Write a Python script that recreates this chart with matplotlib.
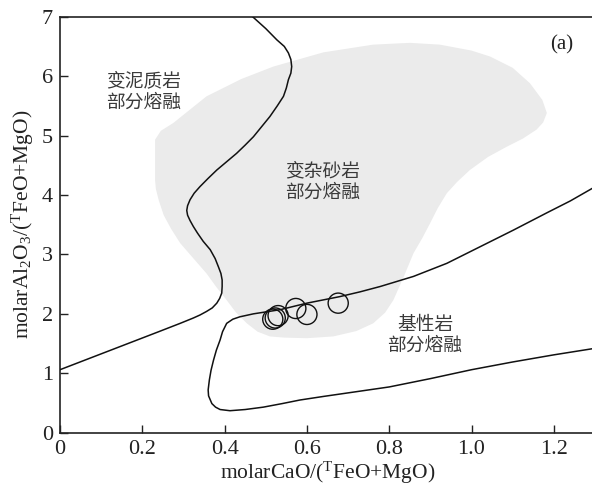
import matplotlib
matplotlib.use("Agg")
import matplotlib.pyplot as plt

# ---- data ----
pelite_x = [0.468, 0.500, 0.527, 0.545, 0.555, 0.561, 0.563, 0.561, 0.555, 0.550, 0.543, 0.528, 0.510, 0.490, 0.470, 0.450, 0.429, 0.405, 0.381, 0.360, 0.340, 0.326, 0.316, 0.310, 0.308, 0.310, 0.316, 0.324, 0.334, 0.348, 0.365, 0.377, 0.385, 0.391, 0.394, 0.394, 0.393, 0.388, 0.381, 0.370, 0.356, 0.340, 0.324, 0.292, 0.240, 0.180, 0.120, 0.060, 0.0]
pelite_y = [7.00, 6.80, 6.61, 6.50, 6.39, 6.28, 6.16, 6.05, 5.94, 5.80, 5.66, 5.50, 5.32, 5.15, 4.98, 4.84, 4.70, 4.56, 4.42, 4.28, 4.14, 4.03, 3.92, 3.82, 3.74, 3.66, 3.57, 3.47, 3.36, 3.22, 3.08, 2.93, 2.79, 2.68, 2.57, 2.46, 2.35, 2.26, 2.18, 2.10, 2.04, 1.98, 1.93, 1.84, 1.70, 1.54, 1.38, 1.22, 1.06]

basalt_x = [1.293, 1.240, 1.183, 1.102, 1.021, 0.940, 0.859, 0.778, 0.729, 0.680, 0.600, 0.535, 0.470, 0.437, 0.420, 0.405, 0.395, 0.389, 0.380, 0.373, 0.367, 0.363, 0.360, 0.361, 0.369, 0.378, 0.389, 0.413, 0.450, 0.494, 0.540, 0.583, 0.640, 0.700, 0.800, 0.900, 1.000, 1.100, 1.200, 1.300]
basalt_y = [4.11, 3.90, 3.70, 3.41, 3.13, 2.85, 2.63, 2.46, 2.37, 2.29, 2.18, 2.07, 2.00, 1.95, 1.91, 1.84, 1.70, 1.56, 1.39, 1.22, 1.05, 0.89, 0.72, 0.62, 0.49, 0.43, 0.39, 0.37, 0.39, 0.43, 0.49, 0.55, 0.61, 0.67, 0.77, 0.91, 1.06, 1.19, 1.31, 1.42]

gray_x = [0.231, 0.231, 0.245, 0.275, 0.356, 0.440, 0.518, 0.640, 0.761, 0.850, 0.923, 1.000, 1.045, 1.100, 1.142, 1.172, 1.183, 1.174, 1.158, 1.125, 1.085, 1.040, 0.996, 0.965, 0.940, 0.918, 0.899, 0.880, 0.859, 0.835, 0.810, 0.790, 0.761, 0.720, 0.664, 0.600, 0.545, 0.510, 0.480, 0.454, 0.428, 0.405, 0.380, 0.356, 0.322, 0.292, 0.270, 0.252, 0.240, 0.233]
gray_y = [4.25, 4.93, 5.08, 5.21, 5.66, 5.95, 6.16, 6.40, 6.53, 6.56, 6.53, 6.43, 6.33, 6.14, 5.88, 5.60, 5.38, 5.22, 5.10, 4.95, 4.81, 4.64, 4.42, 4.22, 4.03, 3.78, 3.52, 3.27, 3.02, 2.62, 2.23, 2.02, 1.84, 1.71, 1.62, 1.59, 1.60, 1.62, 1.70, 1.84, 2.02, 2.23, 2.45, 2.68, 2.95, 3.19, 3.43, 3.66, 3.91, 4.10]

sample_x = [0.517, 0.523, 0.530, 0.573, 0.600, 0.676]
sample_y = [1.91, 1.93, 1.97, 2.09, 1.99, 2.18]

x_ticks = [0, 0.2, 0.4, 0.6, 0.8, 1.0, 1.2]
x_ticklabels = ["0", "0.2", "0.4", "0.6", "0.8", "1.0", "1.2"]
y_ticks = [0, 1, 2, 3, 4, 5, 6, 7]
y_ticklabels = ["0", "1", "2", "3", "4", "5", "6", "7"]

labels = [
    ("变泥质岩\n部分熔融", 0.204, 5.74),
    ("变杂砂岩\n部分熔融", 0.638, 4.23),
    ("基性岩\n部分熔融", 0.887, 1.645),
]
panel_label = "(a)"

# ---- style ----
plt.rcParams["font.family"] = ["Liberation Serif", "DejaVu Serif"]
plt.rcParams["mathtext.fontset"] = "custom"
plt.rcParams["mathtext.rm"] = "Liberation Serif"
plt.rcParams["mathtext.it"] = "Liberation Serif:italic"
plt.rcParams["mathtext.default"] = "regular"

fig = plt.figure(figsize=(5.92, 4.88), dpi=100)
ax = fig.add_axes([60 / 592, (488 - 432.7) / 488, (595 - 60) / 592, (432.7 - 16.7) / 488])

ax.fill(gray_x, gray_y, color="#ebebeb", lw=0, zorder=1)
ax.plot(pelite_x, pelite_y, color="#111111", lw=1.1, zorder=3, solid_joinstyle="round")
ax.plot(basalt_x, basalt_y, color="#111111", lw=1.1, zorder=3, solid_joinstyle="round")
ax.scatter(sample_x, sample_y, s=210, facecolors="none", edgecolors="#111111", linewidths=1.0, zorder=4)

for txt, x, y in labels:
    ax.text(x, y, txt, ha="center", va="center", fontsize=13.5, color="#3a3a3a",
            family=["Noto Sans CJK SC", "DejaVu Sans"], fontweight="light", linespacing=1.0, zorder=5)
ax.text(1.218, 6.53, panel_label, ha="center", va="center", fontsize=15, color="#222222")

ax.set_xlim(0, 1.3)
ax.set_ylim(0, 7)
ax.set_xticks(x_ticks)
ax.set_xticklabels(x_ticklabels)
ax.set_yticks(y_ticks)
ax.set_yticklabels(y_ticklabels)
ax.tick_params(direction="in", length=6, width=1, labelsize=16, colors="#222222", pad=5)
for s in ["left", "bottom", "top"]:
    ax.spines[s].set_linewidth(1.2)
    ax.spines[s].set_color("#222222")
ax.spines["right"].set_visible(False)

ax.set_xlabel(r"molarCaO/($^{\mathrm{T}}$FeO+MgO)", fontsize=15.5, color="#222222", labelpad=1)
ax.set_ylabel(r"molarAl$_2$O$_3$/($^{\mathrm{T}}$FeO+MgO)", fontsize=15.5, color="#222222", labelpad=4)

fig.savefig("out.png", dpi=100)
